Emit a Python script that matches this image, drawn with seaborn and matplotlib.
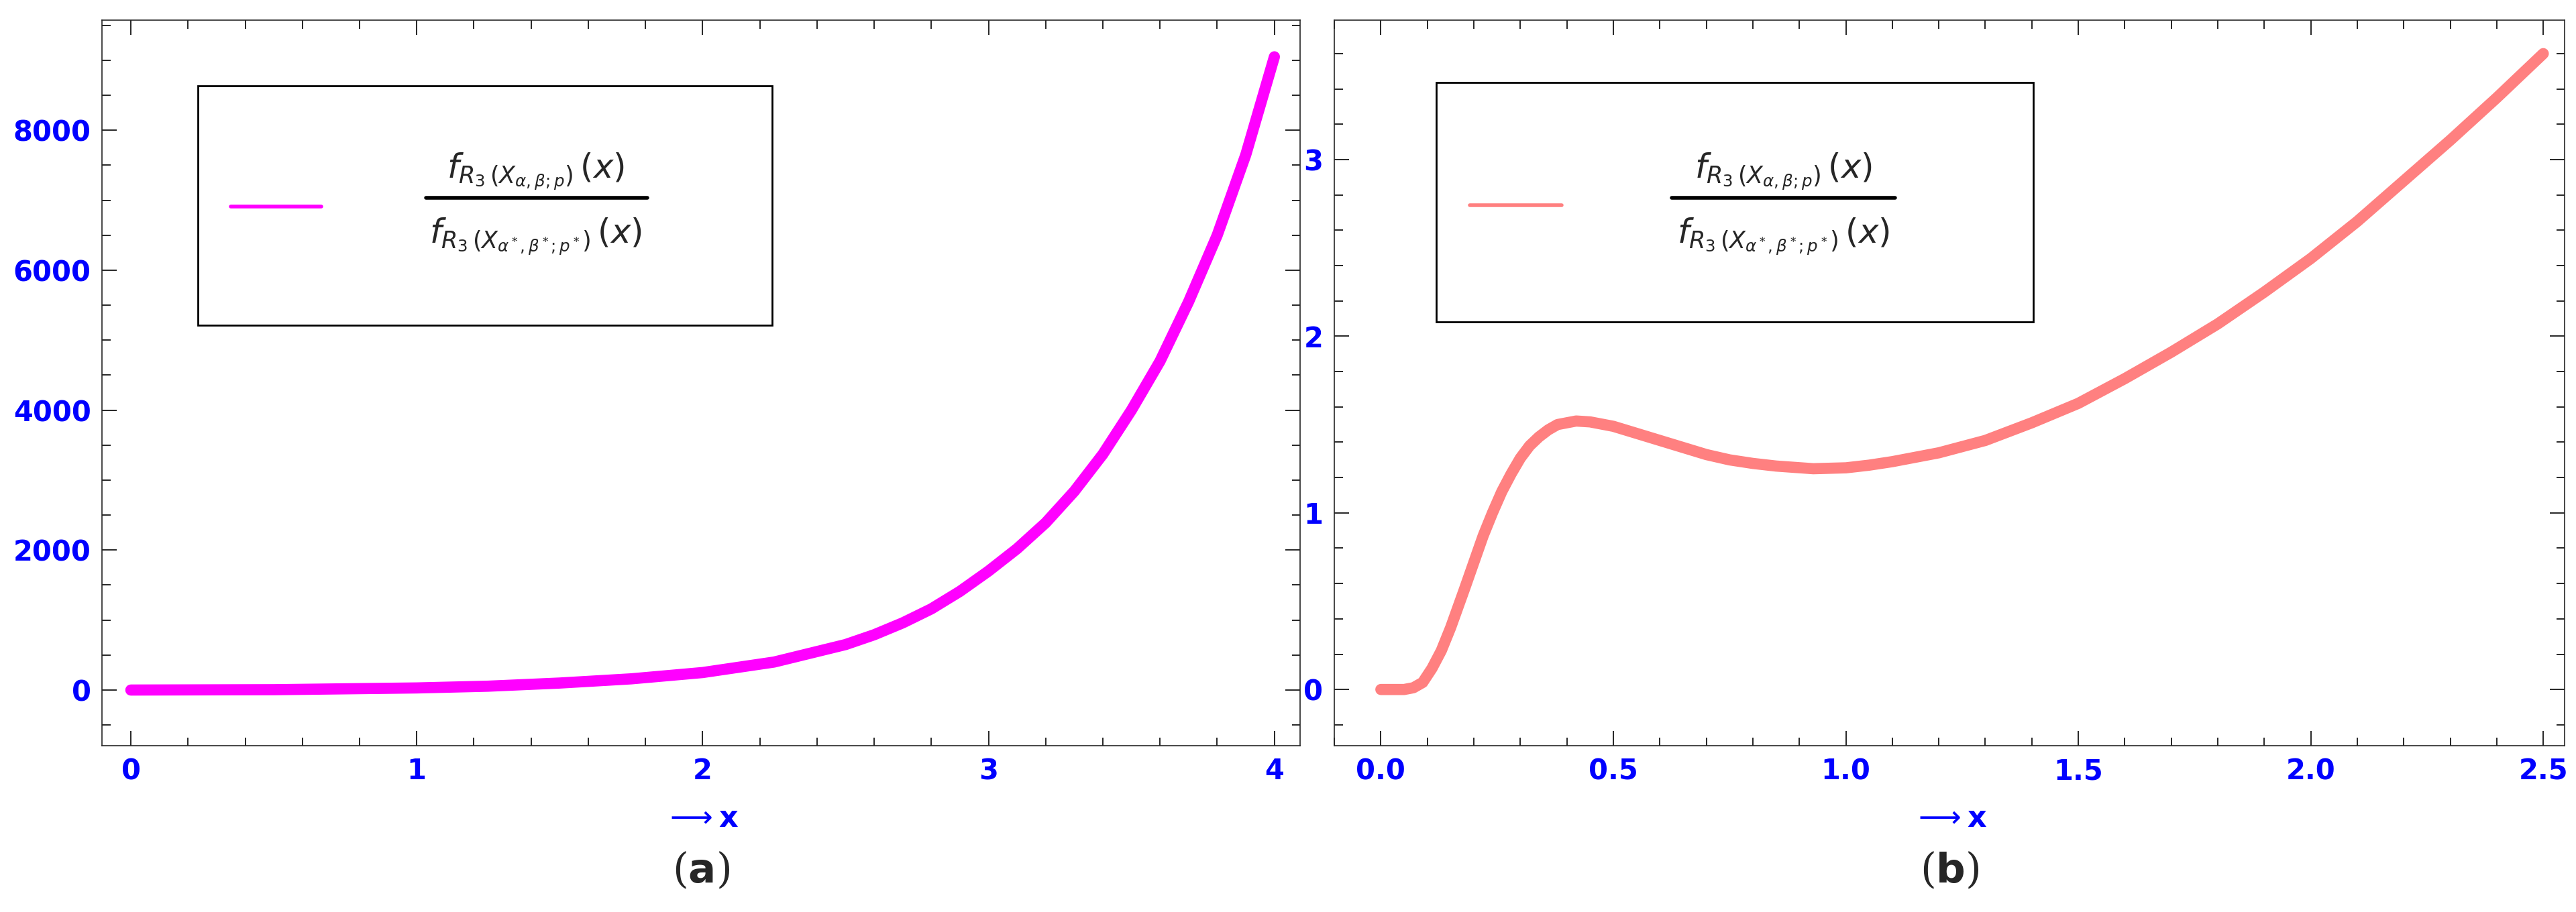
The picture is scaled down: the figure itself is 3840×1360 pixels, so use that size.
import numpy as np
import pandas as pd
import matplotlib
matplotlib.use("Agg")
import matplotlib.pyplot as plt
import seaborn as sns
from matplotlib.ticker import MultipleLocator
from matplotlib.patches import Rectangle

# datos
xa = [0, 0.5, 1.0, 1.25, 1.5, 1.75, 2.0, 2.25, 2.5, 2.6, 2.7, 2.8, 2.9, 3.0,
      3.1, 3.2, 3.3, 3.4, 3.5, 3.6, 3.7, 3.8, 3.9, 4.0]
ya = [0, 5, 30, 55, 100, 160, 250, 400, 650, 790, 960, 1160, 1410, 1700,
      2020, 2390, 2840, 3370, 4000, 4700, 5550, 6500, 7650, 9050]

xb = [0, 0.05, 0.07, 0.09, 0.11, 0.13, 0.15, 0.18, 0.2, 0.22, 0.24, 0.26, 0.28, 0.3,
      0.32, 0.34, 0.36, 0.38, 0.42, 0.45, 0.5, 0.55, 0.6, 0.65, 0.7, 0.75, 0.8, 0.85,
      0.93, 1.0, 1.05, 1.1, 1.2, 1.3, 1.4, 1.5, 1.6, 1.7, 1.8, 1.9, 2.0, 2.1, 2.2,
      2.3, 2.4, 2.5]
yb = [0, 0, 0.01, 0.04, 0.12, 0.22, 0.35, 0.57, 0.72, 0.87, 1.0, 1.12, 1.22, 1.31,
      1.38, 1.43, 1.47, 1.50, 1.52, 1.515, 1.49, 1.45, 1.41, 1.37, 1.33, 1.30, 1.28,
      1.265, 1.25, 1.255, 1.27, 1.29, 1.34, 1.41, 1.51, 1.62, 1.76, 1.91, 2.07, 2.25,
      2.44, 2.65, 2.88, 3.11, 3.35, 3.6]

num = r'$f_{R_3\,(X_{\alpha,\beta;p})}\,(x)$'
den = r'$f_{R_3\,(X_{\alpha^*,\beta^*;p^*})}\,(x)$'

sns.set_style("ticks")
plt.rcParams['mathtext.fontset'] = 'dejavusans'

fig = plt.figure(figsize=(38.4, 13.6), dpi=100)
ax1 = fig.add_axes([0.0397, 0.182, 0.465, 0.796])
ax2 = fig.add_axes([0.518, 0.182, 0.4776, 0.796])

paneles = [
    (ax1, xa, ya, '#ff00ff', 12, (-0.1, 4.09), (-800, 9575), 1, 0.2, 2000, 500,
     (0.08, 0.58, 0.479, 0.329), (0.107, 0.183, 0.743), (0.362, 0.27, 0.455), 'a'),
    (ax2, xb, yb, '#ff8080', 12, (-0.1, 2.546), (-0.32, 3.79), 0.5, 0.1, 1, 0.2,
     (0.083, 0.584, 0.485, 0.33), (0.11, 0.185, 0.745), (0.365, 0.274, 0.456), 'b'),
]

for (ax, x, y, color, lw, xl, yl, xmaj, xmin, ymaj, ymin,
     box, leg, frac, cap) in paneles:
    df = pd.DataFrame({'x': x, 'y': y})
    sns.lineplot(data=df, x='x', y='y', ax=ax, color=color, linewidth=lw)
    ax.set_xlim(*xl)
    ax.set_ylim(*yl)
    ax.xaxis.set_major_locator(MultipleLocator(xmaj))
    ax.xaxis.set_minor_locator(MultipleLocator(xmin))
    ax.yaxis.set_major_locator(MultipleLocator(ymaj))
    ax.yaxis.set_minor_locator(MultipleLocator(ymin))
    if ax is ax2:
        ax.xaxis.set_major_formatter(matplotlib.ticker.FormatStrFormatter('%.1f'))
    ax.tick_params(which='both', direction='in', top=True, right=True,
                   colors='black', labelcolor='blue', labelsize=30, width=1.2)
    ax.tick_params(which='major', length=16, pad=12)
    ax.tick_params(which='minor', length=9)
    for t in ax.get_xticklabels() + ax.get_yticklabels():
        t.set_fontweight('bold')
    for s in ax.spines.values():
        s.set_linewidth(1.2)
    ax.set_xlabel(r'$\longrightarrow$x', color='blue', fontsize=32,
                  fontweight='bold', labelpad=20)
    ax.set_ylabel('')

    # leyenda manual
    ax.add_patch(Rectangle((box[0], box[1]), box[2], box[3], transform=ax.transAxes,
                           fill=False, edgecolor='black', linewidth=2))
    ax.plot([leg[0], leg[1]], [leg[2], leg[2]], transform=ax.transAxes,
            color=color, linewidth=4)
    ax.plot([frac[1], frac[2]], [0.755, 0.755], transform=ax.transAxes,
            color='black', linewidth=4)
    ax.text(frac[0], 0.792, num, transform=ax.transAxes, ha='center', va='center',
            fontsize=36)
    ax.text(frac[0], 0.702, den, transform=ax.transAxes, ha='center', va='center',
            fontsize=36)

    fig.text(ax.get_position().x0 + ax.get_position().width / 2, 0.045,
             '(' + r'$\mathbf{' + cap + '}$' + ')', ha='center', va='center',
             fontsize=44, family='DejaVu Serif')

fig.savefig('out.png', dpi=100)
